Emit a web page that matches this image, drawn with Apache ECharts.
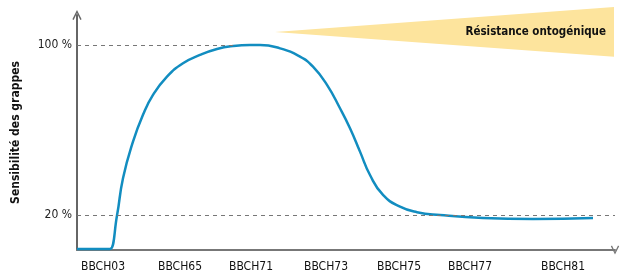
<!DOCTYPE html>
<html lang="fr">
<head>
    <meta charset="UTF-8">
    <title>Sensibilité des grappes</title>
    <script src="https://cdn.jsdelivr.net/npm/echarts@6.0.0/dist/echarts.min.js"></script>
    <style>
        html, body { margin: 0; padding: 0; background: #fff; }
        #chart { width: 624px; height: 275px; }
    </style>
</head>
<body>
    <div id="chart"></div>
    <script>
        // stades phénologiques (position sur l'axe des x)
        const stageNames = ['BBCH03', 'BBCH65', 'BBCH71', 'BBCH73', 'BBCH75', 'BBCH77', 'BBCH81'];
        const stagePos = [26, 103, 174, 249, 322, 393, 486];

        // courbe de sensibilité : position x, sensibilité en %
        const curveX = [0, 30, 33, 40, 46, 56, 66, 76, 90, 106, 123, 140, 156, 173, 183, 203, 223, 236, 250, 263, 273, 283, 293, 306, 323, 340, 363, 406, 456, 516];
        const curveY = [4, 4, 4, 19.7, 37.3, 54.5, 67.1, 76.5, 85.1, 91.4, 95.3, 98.1, 99.5, 100, 100, 98.4, 94.5, 89.8, 81.2, 70.2, 60.8, 49.8, 38.8, 29.4, 23.9, 21.3, 20, 18.6, 18.1, 18.6];

        // repères en pointillés
        const refLevels = [100, 20];
        const refEnds = [156, 538];

        // bandeau « résistance ontogénique » : pointe, coin haut droit, coin bas droit
        const wedgeX = [198, 537, 537];
        const wedgeY = [106.1, 117.9, 94.4];
        const wedgeLabel = 'Résistance ontogénique';

        const font = "'DejaVu Sans Condensed', 'Liberation Sans Narrow', sans-serif";
        const chevronUp = 'path://M0,10 L5,0 L10,10 L8.6,10.8 L5,3.2 L1.4,10.8 Z';
        const chevronRight = 'path://M0,0 L10,5 L0,10 L-0.8,8.6 L6.8,5 L-0.8,1.4 Z';

        const chart = echarts.init(document.getElementById('chart'));

        const option = {
            animation: false,
            grid: { left: 77, right: 9, top: 15, bottom: 25 },
            xAxis: {
                type: 'value',
                min: 0,
                max: 538,
                axisLine: {
                    show: true,
                    lineStyle: { color: '#777', width: 2 },
                    symbol: ['none', chevronRight],
                    symbolSize: [9, 11]
                },
                axisTick: { show: false },
                splitLine: { show: false },
                axisLabel: {
                    customValues: stagePos,
                    formatter: function (v) {
                        return stageNames[stagePos.indexOf(v)] || '';
                    },
                    color: '#111',
                    fontFamily: font,
                    fontSize: 12,
                    margin: 11
                }
            },
            yAxis: {
                type: 'value',
                min: 3.5,
                max: 114.1,
                name: 'Sensibilité des grappes',
                nameLocation: 'middle',
                nameRotate: 90,
                nameGap: 55,
                nameTextStyle: {
                    color: '#111',
                    fontFamily: font,
                    fontSize: 12,
                    fontWeight: 'bold'
                },
                axisLine: {
                    show: true,
                    lineStyle: { color: '#666', width: 2 },
                    symbol: ['none', chevronUp],
                    symbolSize: [12, 10]
                },
                axisTick: { show: false },
                splitLine: { show: false },
                axisLabel: {
                    customValues: refLevels,
                    formatter: '{value} %',
                    color: '#222',
                    fontFamily: font,
                    fontSize: 12,
                    margin: 5
                }
            },
            series: [
                {
                    type: 'custom',
                    silent: true,
                    clip: false,
                    z: 1,
                    data: [0],
                    renderItem: function (params, api) {
                        const pts = wedgeX.map((x, i) => api.coord([x, wedgeY[i]]));
                        const right = pts[1][0];
                        const mid = api.coord([wedgeX[0], wedgeY[0]])[1];
                        return {
                            type: 'group',
                            children: [
                                {
                                    type: 'polygon',
                                    shape: { points: pts },
                                    style: { fill: '#fde49d' }
                                },
                                {
                                    type: 'text',
                                    x: right - 8,
                                    y: mid,
                                    style: {
                                        text: wedgeLabel,
                                        fill: '#111',
                                        font: 'bold 11.5px ' + font,
                                        align: 'right',
                                        verticalAlign: 'middle'
                                    }
                                }
                            ]
                        };
                    }
                },
                {
                    type: 'line',
                    data: curveX.map((x, i) => [x, curveY[i]]),
                    showSymbol: false,
                    smooth: 0.5,
                    z: 3,
                    lineStyle: { color: '#128dc0', width: 2.5 },
                    markLine: {
                        silent: true,
                        symbol: 'none',
                        label: { show: false },
                        lineStyle: { color: '#777', width: 1, type: [4, 4] },
                        data: refLevels.map((v, i) => [
                            { coord: [0, v] },
                            { coord: [refEnds[i], v] }
                        ])
                    }
                }
            ]
        };

        chart.setOption(option);
    </script>
</body>
</html>
